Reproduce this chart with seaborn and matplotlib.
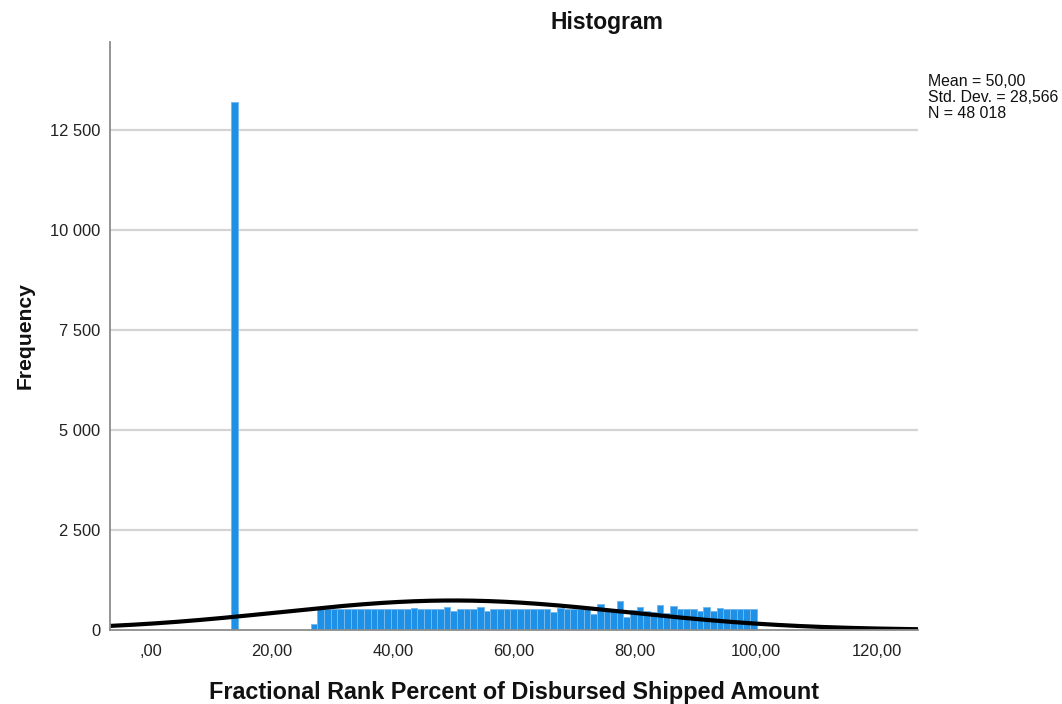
import numpy as np
import pandas as pd
import matplotlib
matplotlib.use("Agg")
import matplotlib.pyplot as plt
import seaborn as sns

# ---- data ----
spike_value = 13.75
spike_count = 13200
spike_width = 1.1

bin_start = 26.4
bin_width = 1.1
counts = [140,
          525, 525, 525, 525, 525, 525, 525, 525, 525, 525, 525, 525, 525, 525,
          550, 525, 525, 525, 530, 565, 480, 525, 525, 525, 575, 480,
          525, 525, 525, 525, 525, 525, 525, 525, 525, 450, 540,
          525, 525, 525, 525, 395, 650, 525, 520, 735, 320, 510, 570,
          480, 460, 625, 435, 600, 525, 525, 525, 485, 565, 485, 550,
          525, 525, 525, 525, 525]

mean_val = 50.00
sd_val = 28.566
n_val = 48018

x_ticks = [0, 20, 40, 60, 80, 100, 120]
x_tick_labels = [",00", "20,00", "40,00", "60,00", "80,00", "100,00", "120,00"]
y_ticks = [0, 2500, 5000, 7500, 10000, 12500]
y_tick_labels = ["0", "2 500", "5 000", "7 500", "10 000", "12 500"]

title = "Histogram"
x_label = "Fractional Rank Percent of Disbursed Shipped Amount"
y_label = "Frequency"
stats_lines = ["Mean = 50,00", "Std. Dev. = 28,566", "N = 48 018"]

# ---- plotting ----
sns.set_theme(style="white")
plt.rcParams['font.family'] = ['Liberation Sans', 'DejaVu Sans']

fig = plt.figure(figsize=(10.62, 7.04), dpi=100)
ax = fig.add_axes([110/1062, 1 - 630/704, (918-110)/1062, (630-42)/704])

xmin, xmax = -6.8, 126.8
bar_color = "#1e90e6"
edge_color = "#74b9ee"

edges = [float(e) for e in (bin_start + bin_width * np.arange(len(counts) + 1))]
centers = [(edges[i] + edges[i+1]) / 2 for i in range(len(counts))]
df_main = pd.DataFrame({"x": centers, "w": counts})
sns.histplot(data=df_main, x="x", weights="w", bins=edges, ax=ax,
             color=bar_color, alpha=1, edgecolor=edge_color, linewidth=0.7,
             zorder=2)

spike_edges = [spike_value - spike_width/2, spike_value + spike_width/2]
df_spike = pd.DataFrame({"x": [spike_value], "w": [spike_count]})
sns.histplot(data=df_spike, x="x", weights="w", bins=spike_edges, ax=ax,
             color=bar_color, alpha=1, edgecolor=edge_color, linewidth=0.7,
             zorder=2)

# normal curve scaled to the histogram
xs = np.linspace(xmin, xmax, 400)
ys = n_val * bin_width * np.exp(-0.5 * ((xs - mean_val) / sd_val) ** 2) / (sd_val * np.sqrt(2 * np.pi))
sns.lineplot(x=xs, y=ys, ax=ax, color="black", linewidth=3.0, zorder=3)

ax.set_xlim(xmin, xmax)
ax.set_ylim(0, 14700)

ax.set_xticks(x_ticks)
ax.set_xticklabels(x_tick_labels, fontsize=11.9, color="#222222")
ax.set_yticks(y_ticks)
ax.set_yticklabels(y_tick_labels, fontsize=11.9, color="#222222")
ax.tick_params(axis="both", length=0, pad=7)
ax.tick_params(axis="x", pad=10)

for yv in y_ticks[1:]:
    ax.axhline(yv, color="#d4d4d4", linewidth=1.6, zorder=1)

for s in ["top", "right"]:
    ax.spines[s].set_visible(False)
for s in ["left", "bottom"]:
    ax.spines[s].set_color("#8c8c8c")
    ax.spines[s].set_linewidth(1.3)
    ax.spines[s].set_zorder(4)

ax.set_xlabel(x_label, fontsize=16.8, fontweight="bold", labelpad=16, color="#111111")
ax.set_ylabel(y_label, fontsize=15.2, fontweight="bold", labelpad=11, color="#111111")

fig.text(607/1062, 1 - 22/704, title, ha="center", va="center",
         fontsize=16.5, fontweight="bold", color="#111111")

for i, line in enumerate(stats_lines):
    fig.text(928/1062, 1 - (81 + i*16.3)/704, line, ha="left", va="center",
             fontsize=11.4, color="#111111")

fig.savefig("out.png", dpi=100)
